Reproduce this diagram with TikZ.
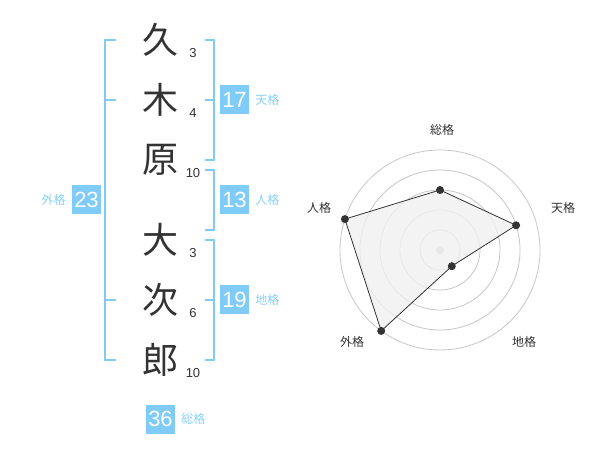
\documentclass[tikz,border=0pt]{standalone}
\usepackage{fontspec}
\usetikzlibrary{positioning}
\setmainfont{Liberation Sans}
\newfontfamily\jp{Noto Sans CJK JP}
\definecolor{br}{HTML}{7FCBF5}
\definecolor{bx}{HTML}{80CCF8}
\definecolor{lb}{HTML}{8AD0F5}
\definecolor{ink}{HTML}{333333}
\begin{document}
\begin{tikzpicture}[x=1pt,y=-1pt,
 kanji/.style={font=\jp\fontsize{36}{36}\selectfont, text=ink, inner sep=0pt},
 strokes/.style={font=\fontsize{13}{13}\selectfont, text=ink, inner sep=0pt},
 brk/.style={draw=br, line width=2pt},
 numbox/.style={fill=bx, text=white, minimum width=29pt, minimum height=29pt, inner sep=0pt, font=\fontsize{22}{22}\selectfont},
 kaku/.style={text=lb, font=\jp\fontsize{12}{12}\selectfont, inner sep=0pt},
 ring/.style={draw=black!22, line width=0.8pt},
 axlab/.style={text=ink, font=\jp\fontsize{12}{12}\selectfont, inner sep=0pt},
 vdot/.style={circle, fill=ink, inner sep=0pt, minimum size=8pt}
]
\useasboundingbox[fill=white] (0,0) rectangle (600,470);

% name characters
\node[kanji] (k1) at (160,40) {久};
\node[kanji] (k2) at (160,100) {木};
\node[kanji] (k3) at (160,160) {原};
\node[kanji] (k4) at (160,240) {大};
\node[kanji] (k5) at (160,300) {次};
\node[kanji] (k6) at (160,360) {郎};

% stroke counts
\node[strokes] (s1) at (193,53) {3};
\node[strokes] (s2) at (193,113) {4};
\node[strokes] (s3) at (193,173) {10};
\node[strokes] (s4) at (193,253) {3};
\node[strokes] (s5) at (193,313) {6};
\node[strokes] (s6) at (193,373) {10};

% brackets
\draw[brk] (116,40) -- (105,40) -- (105,360) -- (116,360);
\draw[brk] (105,100) -- (116,100);
\draw[brk] (105,300) -- (116,300);
\draw[brk] (205,40) -- (214,40) -- (214,160) -- (205,160);
\draw[brk] (205,100) -- (214,100);
\draw[brk] (205,170) -- (214,170) -- (214,230) -- (205,230);
\draw[brk] (205,240) -- (214,240) -- (214,360) -- (205,360);
\draw[brk] (205,300) -- (214,300);

% score boxes
\node[numbox] (ten) at (234.5,100) {17};
\node[kaku, right=6pt of ten] (tenl) {天格};
\node[numbox] (jin) at (234.5,200) {13};
\node[kaku, right=6pt of jin] (jinl) {人格};
\node[numbox] (chi) at (234.5,300) {19};
\node[kaku, right=6pt of chi] (chil) {地格};
\node[numbox] (gai) at (86.5,200) {23};
\node[kaku, left=6pt of gai] (gail) {外格};
\node[numbox] (sou) at (160.5,419) {36};
\node[kaku, right=6pt of sou] (soul) {総格};

% radar chart
\coordinate (c) at (440,250);
\foreach \r in {20,40,60,80,100} \draw[ring] (c) circle (\r);
\fill[black!20] (c) circle (4);
\coordinate (pS) at (440,190);
\coordinate (pT) at (516.1,225.3);
\coordinate (pC) at (451.8,266.2);
\coordinate (pG) at (381.2,330.9);
\coordinate (pJ) at (344.9,219.1);
\filldraw[fill=black!6, fill opacity=0.8, draw=ink, line width=0.8pt] (pS) -- (pT) -- (pC) -- (pG) -- (pJ) -- cycle;
\foreach \p in {pS,pT,pC,pG,pJ} \node[vdot] at (\p) {};
\node[axlab] (lS) at (442,130) {総格};
\node[axlab] (lT) at (563,208) {天格};
\node[axlab] (lC) at (524,342) {地格};
\node[axlab] (lG) at (352,342) {外格};
\node[axlab] (lJ) at (319,208) {人格};
\end{tikzpicture}
\end{document}
